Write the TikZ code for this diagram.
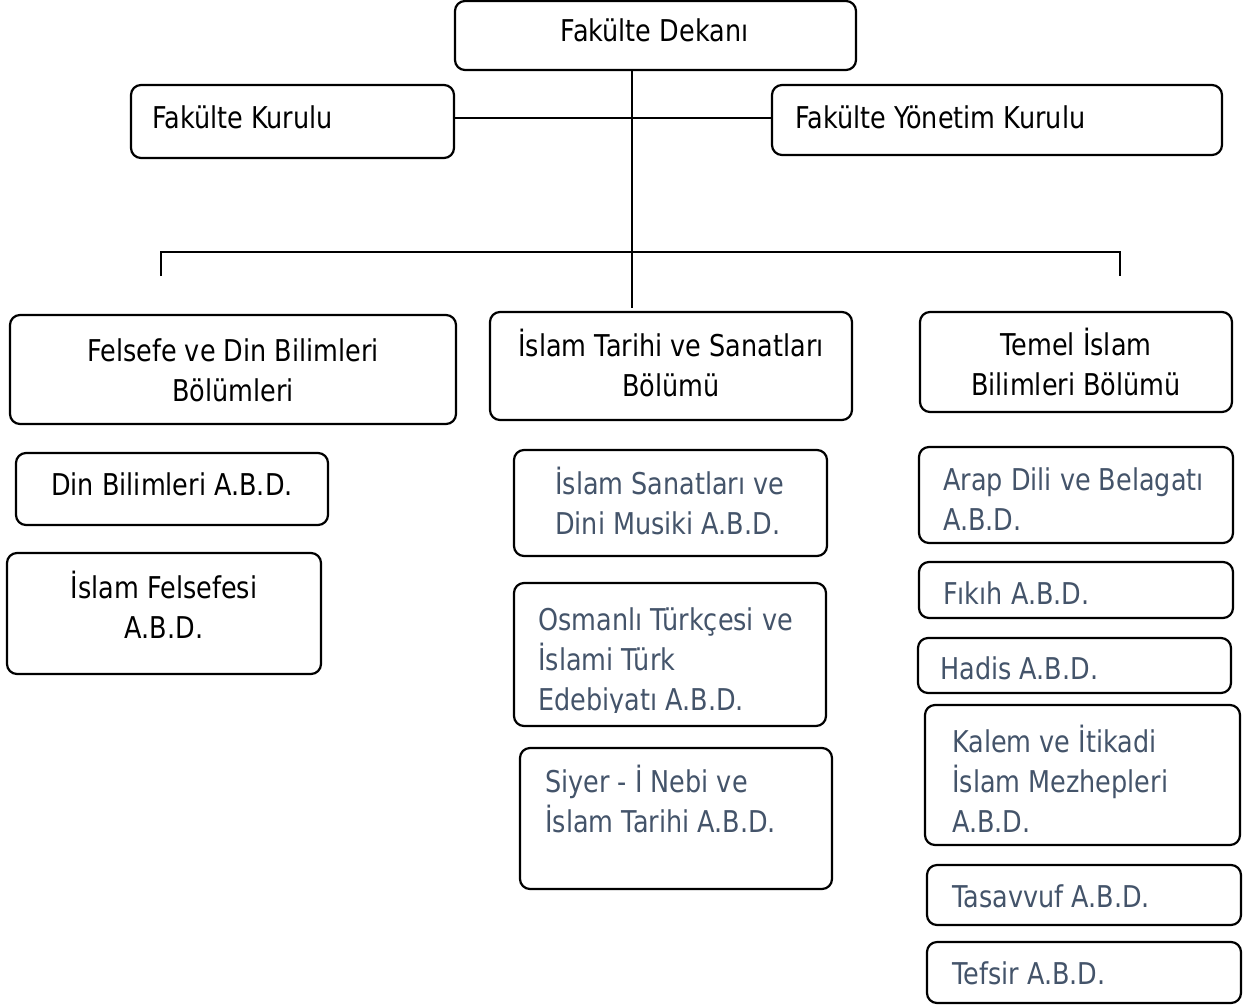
\documentclass[tikz,border=0pt]{standalone}
\usepackage{fontspec}
\setmainfont{DejaVu Sans}[FakeStretch=0.85]
\definecolor{slate}{HTML}{44546A}
\newcommand\orgbox[5]{%
  \node[box, minimum width={(#4-#2)*1pt}, minimum height={(#5-#3)*1pt}] (#1) at ({(#2+#4)/2},{-(#3+#5)/2}) {};}
\begin{document}
\begin{tikzpicture}[x=1pt,y=1pt,
  box/.style={draw=black, line width=2.2pt, rounded corners=10pt, inner sep=0pt, fill=white},
  txt/.style={inner sep=0pt, font=\fontsize{30}{40}\selectfont, text=black},
  stxt/.style={txt, text=slate},
  conn/.style={draw=black, line width=2.2pt}]
\useasboundingbox (0,0) rectangle (1244,-1005);

\coordinate (trunkbot) at (632,-308);
\coordinate (hl) at (632,-118);
\coordinate (busL) at (161,-252);
\coordinate (busR) at (1120,-252);
\coordinate (tickL) at (161,-276);
\coordinate (tickR) at (1120,-276);

\orgbox{dek}{455}{1}{856}{70}
\orgbox{kur}{131}{85}{454}{158}
\orgbox{yon}{772}{85}{1222}{155}

\draw[conn] (dek.south -| trunkbot) -- (trunkbot);
\draw[conn] (kur.east |- hl) -- (yon.west |- hl);
\draw[conn] (tickL) -- (busL) -- (busR) -- (tickR);

\orgbox{fel}{10}{315}{456}{424}
\orgbox{ist}{490}{312}{852}{420}
\orgbox{tem}{920}{312}{1232}{412}

\orgbox{din}{16}{453}{328}{525}
\orgbox{isf}{7}{553}{321}{674}

\orgbox{san}{514}{450}{827}{556}
\orgbox{osm}{514}{583}{826}{726}
\orgbox{siy}{520}{748}{832}{889}

\orgbox{ara}{919}{447}{1233}{543}
\orgbox{fik}{919}{562}{1233}{618}
\orgbox{had}{918}{638}{1231}{693}
\orgbox{kal}{925}{705}{1240}{845}
\orgbox{tas}{927}{865}{1241}{925}
\orgbox{tef}{927}{942}{1241}{1003}

% texts (multi-line nodes: base anchor = baseline of last line)
\node[txt, anchor=base] (tdek) at (654.5,-41) {Fakülte Dekanı};
\node[txt, anchor=base west] (tkur) at (152,-128) {Fakülte Kurulu};
\node[txt, anchor=base west] (tyon) at (795,-128) {Fakülte Yönetim Kurulu};

\node[txt, anchor=base, align=center] (tfel) at (233,-401) {Felsefe ve Din Bilimleri\\Bölümleri};
\node[txt, anchor=base, align=center] (tist) at (671,-396) {İslam Tarihi ve Sanatları\\Bölümü};
\node[txt, anchor=base, align=center] (ttem) at (1076,-395) {Temel İslam\\Bilimleri Bölümü};

\node[txt, anchor=base] (tdin) at (172,-495) {Din Bilimleri A.B.D.};
\node[txt, anchor=base, align=center] (tisf) at (164,-638) {İslam Felsefesi\\A.B.D.};

\node[stxt, anchor=base west, align=left] (tsan) at (555,-534) {İslam Sanatları ve\\Dini Musiki A.B.D.};
\begin{scope}
\clip (514,-583) rectangle (826,-712);
\node[stxt, anchor=base west, align=left] (tosm) at (538,-710) {Osmanlı Türkçesi ve\\İslami Türk\\Edebiyatı A.B.D.};
\end{scope}
\node[stxt, anchor=base west, align=left] (tsiy) at (545,-832) {Siyer - İ Nebi ve\\İslam Tarihi A.B.D.};

\node[stxt, anchor=base west, align=left] (tara) at (943,-530) {Arap Dili ve Belagatı\\A.B.D.};
\node[stxt, anchor=base west] (tfik) at (943,-604) {Fıkıh A.B.D.};
\node[stxt, anchor=base west] (thad) at (940,-679) {Hadis A.B.D.};
\node[stxt, anchor=base west, align=left] (tkal) at (952,-832) {Kalem ve İtikadi\\İslam Mezhepleri\\A.B.D.};
\node[stxt, anchor=base west] (ttas) at (952,-907) {Tasavvuf A.B.D.};
\node[stxt, anchor=base west] (ttef) at (952,-984) {Tefsir A.B.D.};
\end{tikzpicture}
\end{document}
